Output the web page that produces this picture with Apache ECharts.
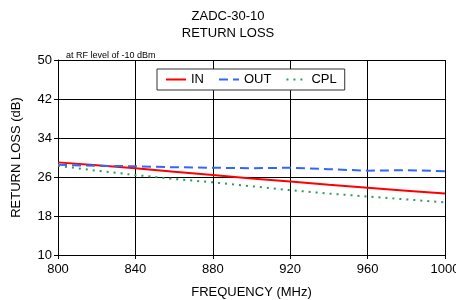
<!DOCTYPE html>
<html>
<head>
<meta charset="utf-8">
<script src="https://cdn.jsdelivr.net/npm/echarts@6/dist/echarts.min.js"></script>
<style>
  html, body { margin: 0; padding: 0; background: #fff; }
  #chart { width: 456px; height: 300px; }
</style>
</head>
<body>
<div id="chart"></div>
<script>
// frequency points (MHz)
const freqs = [800, 820, 840, 860, 880, 900, 920, 940, 960, 980, 1000];
// return loss values (dB)
const inLoss  = [29.0, 28.4, 27.8, 27.1, 26.4, 25.7, 25.1, 24.4, 23.8, 23.2, 22.6];
const outLoss = [28.5, 28.3, 28.2, 28.0, 27.9, 27.8, 27.9, 27.6, 27.3, 27.4, 27.2];
const cplLoss = [28.3, 27.3, 26.4, 25.6, 24.9, 24.1, 23.3, 22.6, 22.0, 21.4, 20.8];

const xTicks = { min: 800, max: 1000, step: 40 };
const yTicks = { min: 10, max: 50, step: 8 };

function pairs(xs, ys) {
  return xs.map((x, i) => [x, ys[i]]);
}

const font = 'Liberation Sans, Arial, sans-serif';
const chart = echarts.init(document.getElementById('chart'), null, { renderer: 'canvas' });

chart.setOption({
  animation: false,
  backgroundColor: '#fff',
  title: [
    {
      text: 'ZADC-30-10\nRETURN LOSS',
      left: 'center',
      top: 3,
      textStyle: { fontFamily: font, fontSize: 13, fontWeight: 'normal', color: '#000', lineHeight: 17 }
    },
    {
      text: 'at RF level of -10 dBm',
      left: 61,
      top: 46,
      textStyle: { fontFamily: font, fontSize: 9, fontWeight: 'normal', color: '#000' }
    }
  ],
  legend: {
    data: ['IN', 'OUT', 'CPL'],
    left: 157,
    top: 69,
    padding: [4, 8, 4, 8],
    itemGap: 14,
    itemWidth: 20,
    itemHeight: 10,
    backgroundColor: '#fff',
    borderColor: '#333',
    borderWidth: 1,
    borderRadius: 0,
    itemStyle: { opacity: 0 },
    textStyle: { fontFamily: font, fontSize: 13, color: '#000' }
  },
  grid: { left: 58, right: 11, top: 60, bottom: 45, outerBoundsMode: 'none', containLabel: false },
  xAxis: {
    type: 'value',
    min: xTicks.min,
    max: xTicks.max,
    interval: xTicks.step,
    name: 'FREQUENCY (MHz)',
    nameLocation: 'middle',
    nameGap: 31,
    nameTextStyle: { fontFamily: font, fontSize: 13, color: '#000' },
    axisLine: { lineStyle: { color: '#000', width: 1 } },
    axisTick: { show: true, length: 4, lineStyle: { color: '#000' } },
    axisLabel: { fontFamily: font, fontSize: 13, color: '#000', margin: 8, formatter: v => String(v) },
    splitLine: { show: true, lineStyle: { color: '#000', width: 1 } }
  },
  yAxis: {
    type: 'value',
    min: yTicks.min,
    max: yTicks.max,
    interval: yTicks.step,
    name: 'RETURN LOSS (dB)',
    nameLocation: 'middle',
    nameRotate: 90,
    nameGap: 35,
    nameTextStyle: { fontFamily: font, fontSize: 13, color: '#000' },
    axisLine: { show: true, lineStyle: { color: '#000', width: 1 } },
    axisTick: { show: true, length: 4, lineStyle: { color: '#000' } },
    axisLabel: { fontFamily: font, fontSize: 13, color: '#000', margin: 6 },
    splitLine: { show: true, lineStyle: { color: '#000', width: 1 } }
  },
  series: [
    {
      name: 'IN',
      type: 'line',
      symbol: 'none',
      data: pairs(freqs, inLoss),
      lineStyle: { color: '#ff0000', width: 2, type: 'solid' },
      itemStyle: { color: '#ff0000' }
    },
    {
      name: 'OUT',
      type: 'line',
      symbol: 'none',
      data: pairs(freqs, outLoss),
      lineStyle: { color: '#3366ff', width: 2, type: [9, 5] },
      itemStyle: { color: '#3366ff' }
    },
    {
      name: 'CPL',
      type: 'line',
      symbol: 'none',
      data: pairs(freqs, cplLoss),
      lineStyle: { color: '#2e9a5e', width: 2, type: [2, 5] },
      itemStyle: { color: '#2e9a5e' }
    }
  ]
});
</script>
</body>
</html>
